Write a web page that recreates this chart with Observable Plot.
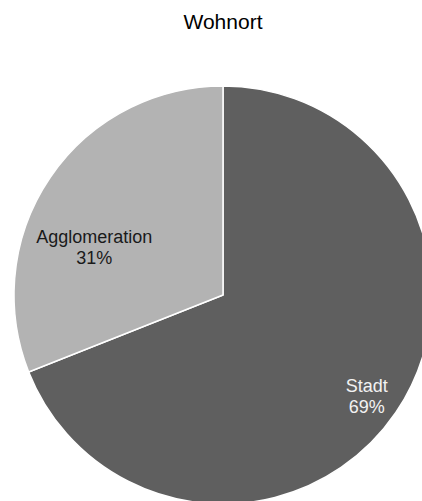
<!DOCTYPE html>
<html><head><meta charset="utf-8">
<script src="https://cdn.jsdelivr.net/npm/d3@7"></script>
<script src="https://cdn.jsdelivr.net/npm/@observablehq/plot@0.6"></script>
<style>
html,body{margin:0;padding:0;background:#fff;overflow:hidden;font-family:"Liberation Sans",Arial,sans-serif}
#title{height:44px;box-sizing:border-box;padding-top:11px;padding-left:24px;width:422px;text-align:center;font-size:21px;line-height:21px;color:#000}
#chart svg{overflow:hidden}
</style></head><body>
<div id="title">Wohnort</div>
<div id="chart"></div>
<script>
const categories = ["Stadt", "Agglomeration"];
const shares = [69, 31];
const sliceColors = ["#5f5f5f", "#b3b3b3"];
const labelColors = ["#f2f2f2", "#1a1a1a"];

const data = categories.map((c, i) => ({category: c, value: shares[i], fill: sliceColors[i], ink: labelColors[i]}));
const arcs = d3.pie().sort(null).value(d => d.value)(data);
const labelR = 0.84;
const labels = arcs.map(a => {
  const m = (a.startAngle + a.endAngle) / 2;
  return {...a.data, lx: labelR * Math.sin(m), ly: labelR * Math.cos(m), text: a.data.category + "\n" + a.data.value + "%"};
});

function pieMark(index, scales) {
  const cx = scales.x(0), cy = scales.y(0);
  const r = Math.abs(scales.x(1) - scales.x(0));
  const arc = d3.arc().innerRadius(0).outerRadius(r);
  const g = d3.create("svg:g").attr("transform", `translate(${cx},${cy})`);
  g.selectAll("path").data(arcs).join("path")
    .attr("d", arc)
    .attr("fill", d => d.data.fill)
    .attr("stroke", "#fff")
    .attr("stroke-width", 1.5)
    .attr("stroke-linejoin", "round");
  return g.node();
}

const textOpts = {x: "lx", y: "ly", text: "text", fill: "ink", fontSize: 18, lineHeight: 1.17,
  fontFamily: "Liberation Sans, Arial, sans-serif", textAnchor: "middle"};

const chart = Plot.plot({
  width: 422,
  height: 457,
  margin: 0,
  x: {domain: [-1, 1], range: [14, 432], axis: null},
  y: {domain: [-1, 1], range: [460, 42], axis: null},
  style: {background: "#fff", overflow: "hidden"},
  marks: [
    pieMark,
    Plot.text(labels.filter(d => d.category === "Stadt"), {...textOpts, dx: -2, dy: 2}),
    Plot.text(labels.filter(d => d.category === "Agglomeration"), {...textOpts, dx: 16, dy: 50})
  ]
});
document.getElementById("chart").appendChild(chart);
</script>
</body></html>
